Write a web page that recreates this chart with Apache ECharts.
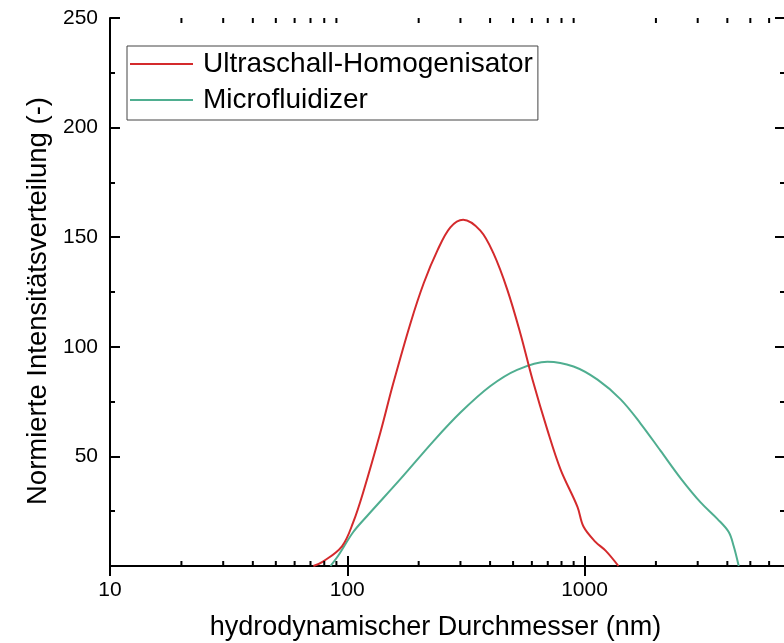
<!DOCTYPE html>
<html>
<head>
<meta charset="utf-8">
<script src="https://cdn.jsdelivr.net/npm/echarts@6/dist/echarts.min.js"></script>
<style>
  html, body { margin: 0; padding: 0; background: #fff; }
  #chart { width: 784px; height: 643px; }
</style>
</head>
<body>
<div id="chart"></div>
<script>
// Hydrodynamic diameter (nm) and normalised intensity for each method
const ultraschallX = [72, 79, 95, 106, 117, 138, 156, 185, 210, 240, 272, 308, 364, 413, 473, 537, 604, 698, 793, 934, 990, 1112, 1227, 1390];
const ultraschallY = [0, 2, 9, 20, 34, 61, 83, 111, 129, 144, 154.5, 158, 153, 142.7, 126, 106, 85, 62, 44, 27, 18, 11, 7, 0];

const microfluidizerX = [85, 92, 106, 121, 167, 231, 300, 400, 520, 698, 899, 1135, 1420, 1723, 2094, 2543, 3086, 3638, 4054, 4256, 4467];
const microfluidizerY = [0, 5, 15.5, 22.7, 39.5, 57, 70, 82, 89.5, 93.2, 91, 85, 76, 65, 52.5, 40, 29, 21.4, 15.5, 9, 0];

const seriesNames = ['Ultraschall-Homogenisator', 'Microfluidizer'];
const seriesColors = ['#d42a2c', '#4fae90'];

// Axis ranges and tick values
const xMin = 10, xMax = 7000;
const yMin = 0, yMax = 250, yStep = 50;
const xMinorTicks = [20, 30, 40, 50, 60, 70, 80, 90, 200, 300, 400, 500, 600, 700, 800, 900, 2000, 3000, 4000, 5000, 6000];

const FONT = 'Liberation Sans, Arial, sans-serif';

function pairs(xs, ys) { return xs.map((x, i) => [x, ys[i]]); }

const chart = echarts.init(document.getElementById('chart'), null, { renderer: 'canvas' });

const axisLine = { show: true, lineStyle: { color: '#000', width: 2 } };
const majorTick = { show: true, inside: true, length: 10, lineStyle: { color: '#000', width: 2 } };

chart.setOption({
  animation: false,
  backgroundColor: '#fff',
  grid: { left: 110, top: 18, width: 675, height: 548, containLabel: false, outerBoundsMode: 'none' },
  legend: {
    data: seriesNames,
    orient: 'vertical',
    left: 127,
    top: 46,
    padding: [4, 5, 6, 3],
    itemGap: 8,
    itemWidth: 63,
    itemHeight: 2,
    icon: 'rect',
    borderColor: '#444',
    borderWidth: 1,
    backgroundColor: '#fff',
    textStyle: { fontFamily: FONT, fontSize: 28, color: '#000', padding: [0, 0, 0, 5] }
  },
  xAxis: [
    {
      type: 'log', logBase: 10, min: xMin, max: xMax, position: 'bottom',
      name: 'hydrodynamischer Durchmesser (nm)', nameLocation: 'middle', nameGap: 48,
      nameTextStyle: { fontFamily: FONT, fontSize: 27, color: '#000', padding: [0, 24, 0, 0] },
      axisLine: axisLine, axisTick: majorTick,
      axisLabel: {
        fontFamily: FONT, fontSize: 21, color: '#000', margin: 14, showMaxLabel: false,
        formatter: function (v) { return String(Math.round(v)); }
      },
      splitLine: { show: false }
    },
    {
      type: 'log', logBase: 10, min: xMin, max: xMax, position: 'top',
      axisLine: axisLine, axisTick: majorTick,
      axisLabel: { show: false }, splitLine: { show: false }
    }
  ],
  yAxis: [
    {
      type: 'value', min: yMin, max: yMax, interval: yStep, position: 'left',
      name: 'Normierte Intensitätsverteilung (-)', nameLocation: 'middle', nameGap: 50,
      nameTextStyle: { fontFamily: FONT, fontSize: 27.5, color: '#000', padding: [0, 18, 0, 0] },
      axisLine: axisLine, axisTick: majorTick,
      minorTick: { show: true, splitNumber: 2, length: 5, lineStyle: { color: '#000', width: 2 } },
      axisLabel: { fontFamily: FONT, fontSize: 21, color: '#000', margin: 12, showMinLabel: false },
      splitLine: { show: false }
    },
    {
      type: 'value', min: yMin, max: yMax, interval: yStep, position: 'right',
      axisLine: axisLine, axisTick: majorTick,
      minorTick: { show: true, splitNumber: 2, length: 5, lineStyle: { color: '#000', width: 2 } },
      axisLabel: { show: false }, splitLine: { show: false }
    }
  ],
  series: [
    {
      name: seriesNames[0], type: 'line', xAxisIndex: 0, yAxisIndex: 0,
      data: pairs(ultraschallX, ultraschallY),
      showSymbol: false, smooth: 0.35,
      lineStyle: { color: seriesColors[0], width: 2 },
      itemStyle: { color: seriesColors[0] }, z: 3
    },
    {
      name: seriesNames[1], type: 'line', xAxisIndex: 0, yAxisIndex: 0,
      data: pairs(microfluidizerX, microfluidizerY),
      showSymbol: false, smooth: 0.35,
      lineStyle: { color: seriesColors[1], width: 2 },
      itemStyle: { color: seriesColors[1] }, z: 2
    },
    {
      // minor ticks of the logarithmic axes, placed through the axis scale
      name: 'minorTicks', type: 'custom', xAxisIndex: 0, yAxisIndex: 0,
      data: xMinorTicks.map(v => [v]),
      silent: true, clip: false, z: 5,
      renderItem: function (params, api) {
        const v = api.value(0);
        const b = api.coord([v, yMin]);
        const t = api.coord([v, yMax]);
        const st = { stroke: '#000', lineWidth: 2 };
        return {
          type: 'group',
          children: [
            { type: 'line', shape: { x1: b[0], y1: b[1], x2: b[0], y2: b[1] - 5 }, style: st },
            { type: 'line', shape: { x1: t[0], y1: t[1], x2: t[0], y2: t[1] + 5 }, style: st }
          ]
        };
      }
    }
  ]
});
</script>
</body>
</html>
